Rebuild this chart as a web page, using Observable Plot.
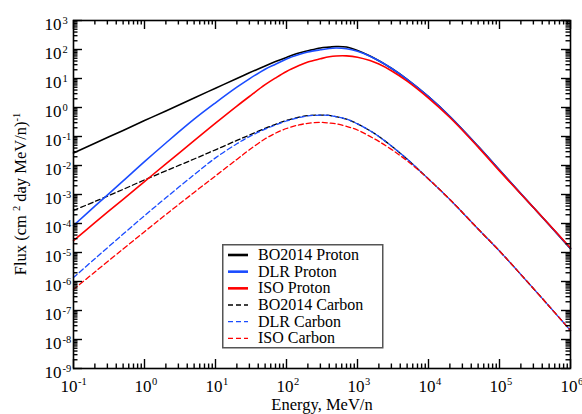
<!DOCTYPE html>
<html><head><meta charset="utf-8">
<script src="https://cdn.jsdelivr.net/npm/d3@7"></script>
<script src="https://cdn.jsdelivr.net/npm/@observablehq/plot@0.6"></script>
<style>
html,body{margin:0;padding:0;background:#fff;}
#wrap{position:relative;width:582px;height:414px;overflow:hidden;background:#fff;font-family:"Liberation Serif",Tinos,"Times New Roman","DejaVu Serif",serif;}
#wrap svg{display:block;}
#wrap svg text{font-family:"Liberation Serif",Tinos,"Times New Roman","DejaVu Serif",serif;}
</style></head>
<body><div id="wrap"></div>
<script>
// Energy grid (MeV/n)
const energy = [0.1, 0.2, 0.5, 1, 2, 5, 10, 20, 30, 50, 70, 100, 150, 200, 300, 400, 500, 700, 1000, 1500, 2000, 3000, 5000, 1e4, 2e4, 5e4, 1e5, 2e5, 5e5, 1e6];
// Flux values, (cm^2 day MeV/n)^-1
const bo2014Proton = [0.027, 0.0587, 0.162, 0.354, 0.763, 2.13, 4.63, 10.0, 15.7, 27.2, 38.3, 53.4, 75.7, 90.2, 112.6, 121, 126.9, 122, 93.1, 59.7, 40.8, 22.5, 9.31, 2.36, 0.489, 0.0459, 0.0070, 0.00106, 9.0e-5, 1.34e-5];
const dlrProton = [8.53e-5, 3.95e-4, 2.94e-3, 0.0136, 0.0597, 0.395, 1.45, 5.01, 9.76, 20.9, 31.1, 47.4, 67.2, 82.0, 97.7, 108.3, 112.6, 106.6, 86.7, 58.7, 40.8, 22.5, 9.31, 2.36, 0.489, 0.0459, 0.0070, 0.00107, 9.09e-5, 1.37e-5];
const isoProton = [2.59e-5, 1.07e-4, 6.83e-4, 2.79e-3, 0.01135, 0.0716, 0.2875, 1.117, 2.395, 6.11, 10.4, 17.43, 27.85, 37.07, 47.8, 56.0, 59.7, 60.2, 54.3, 41.4, 31.4, 18.58, 8.14, 2.11, 0.452, 0.0431, 0.00651, 0.00104, 9.24e-5, 1.43e-5];
const bo2014Carbon = [2.81e-4, 5.74e-4, 1.50e-3, 3.19e-3, 6.51e-3, 0.01675, 0.0348, 0.0734, 0.1117, 0.1918, 0.2634, 0.359, 0.4628, 0.5256, 0.547, 0.534, 0.4817, 0.395, 0.2741, 0.1585, 0.100, 0.0474, 0.01662, 3.42e-3, 6.72e-4, 6.46e-5, 1.126e-5, 1.743e-6, 1.407e-7, 2.04e-8];
const dlrCarbon = [1.37e-6, 6.11e-6, 4.31e-5, 1.86e-4, 7.69e-4, 4.82e-3, 0.0183, 0.056, 0.0992, 0.1786, 0.2492, 0.3423, 0.4484, 0.5132, 0.5427, 0.534, 0.4817, 0.395, 0.2741, 0.1585, 0.100, 0.0474, 0.01662, 3.42e-3, 6.72e-4, 6.46e-5, 1.126e-5, 1.743e-6, 1.407e-7, 2.04e-8];
const isoCarbon = [5.30e-7, 2.13e-6, 1.32e-5, 5.22e-5, 2.03e-4, 1.18e-3, 4.38e-3, 0.01623, 0.0348, 0.0833, 0.130, 0.1887, 0.2512, 0.2851, 0.3087, 0.292, 0.2741, 0.2248, 0.1675, 0.1008, 0.0678, 0.0359, 0.01453, 3.42e-3, 6.72e-4, 6.46e-5, 1.126e-5, 1.743e-6, 1.407e-7, 2.04e-8];

const seriesNames = ["BO2014 Proton", "DLR Proton", "ISO Proton", "BO2014 Carbon", "DLR Carbon", "ISO Carbon"];
const seriesValues = [bo2014Proton, dlrProton, isoProton, bo2014Carbon, dlrCarbon, isoCarbon];
const seriesColors = ["#000000", "#1a4cff", "#ff0000", "#000000", "#1a4cff", "#ff0000"];
const seriesDashed = [false, false, false, true, true, true];

// tick labels (exponents of 10)
const xTickExps = [-1, 0, 1, 2, 3, 4, 5, 6];
const yTickExps = [-9, -8, -7, -6, -5, -4, -3, -2, -1, 0, 1, 2, 3];
const minorMultipliers = [2, 3, 4, 5, 6, 7, 8, 9];

const xMajor = xTickExps.map(e => 10 ** e);
const yMajor = yTickExps.map(e => 10 ** e);
const xMinor = xTickExps.slice(0, -1).flatMap(e => minorMultipliers.map(m => m * 10 ** e));
const yMinor = yTickExps.slice(0, -1).flatMap(e => minorMultipliers.map(m => m * 10 ** e));

const W = 582, H = 414, mL = 73, mR = 12, mT = 20, mB = 46;
const innerW = W - mL - mR, innerH = H - mT - mB;
const majLen = 9, minLen = 4.5;
const serif = '"Liberation Serif", Tinos, "Times New Roman", "DejaVu Serif", serif';

const lineMarks = seriesNames.map((name, k) => Plot.line(
  energy.map((e, i) => ({e, f: seriesValues[k][i]})),
  {x: "e", y: "f", stroke: seriesColors[k], strokeWidth: seriesDashed[k] ? 1.3 : 1.6,
   strokeDasharray: seriesDashed[k] ? "5,3" : null, curve: "catmull-rom"}
));
const ordered = [lineMarks[3], lineMarks[4], lineMarks[5], lineMarks[0], lineMarks[1], lineMarks[2]];

const tickStyle = {stroke: "black", strokeWidth: 1.4};

const chart = Plot.plot({
  width: W, height: H,
  marginLeft: mL, marginRight: mR, marginTop: mT, marginBottom: mB,
  x: {type: "log", domain: [0.1, 1e6], axis: null},
  y: {type: "log", domain: [1e-9, 1e3], axis: null},
  style: {fontFamily: serif, fontSize: "17px", background: "white", color: "black", overflow: "visible"},
  marks: [
    ...ordered,
    Plot.ruleX(xMajor, {x: d => d, insetTop: innerH - majLen, ...tickStyle}),
    Plot.ruleX(xMajor, {x: d => d, insetBottom: innerH - majLen, ...tickStyle}),
    Plot.ruleX(xMinor, {x: d => d, insetTop: innerH - minLen, ...tickStyle}),
    Plot.ruleX(xMinor, {x: d => d, insetBottom: innerH - minLen, ...tickStyle}),
    Plot.ruleY(yMajor, {y: d => d, insetRight: innerW - majLen, ...tickStyle}),
    Plot.ruleY(yMajor, {y: d => d, insetLeft: innerW - majLen, ...tickStyle}),
    Plot.ruleY(yMinor, {y: d => d, insetRight: innerW - minLen, ...tickStyle}),
    Plot.ruleY(yMinor, {y: d => d, insetLeft: innerW - minLen, ...tickStyle}),
    Plot.frame({stroke: "black", strokeWidth: 1.6}),
    Plot.text(xTickExps.filter(e => e >= 0), {x: e => 10 ** e, frameAnchor: "bottom", text: () => "10",
      textAnchor: "middle", lineAnchor: "bottom", dx: -1.5, dy: 23, fontSize: 17}),
    Plot.text(xTickExps.filter(e => e < 0), {x: e => 10 ** e, frameAnchor: "bottom", text: () => "10",
      textAnchor: "middle", lineAnchor: "bottom", dx: -4.5, dy: 23, fontSize: 17}),
    Plot.text(xTickExps.filter(e => e >= 0), {x: e => 10 ** e, frameAnchor: "bottom", text: e => String(e),
      textAnchor: "start", lineAnchor: "bottom", dx: 7.5, dy: 16.5, fontSize: 10.5}),
    Plot.text(xTickExps.filter(e => e < 0), {x: e => 10 ** e, frameAnchor: "bottom", text: e => String(e),
      textAnchor: "start", lineAnchor: "bottom", dx: 4.5, dy: 16.5, fontSize: 10.5}),
    Plot.text(yTickExps, {y: e => 10 ** e, frameAnchor: "left", text: () => "10",
      textAnchor: "end", lineAnchor: "bottom", dx: -12, dy: 9.5, fontSize: 17}),
    Plot.text(yTickExps, {y: e => 10 ** e, frameAnchor: "left", text: e => String(e),
      textAnchor: "start", lineAnchor: "bottom", dx: -11, dy: 3.5, fontSize: 10.5}),
    Plot.text(["Energy, MeV/n"], {frameAnchor: "bottom", text: d => d, textAnchor: "middle",
      lineAnchor: "bottom", dy: 41, fontSize: 16.5})
  ]
});

document.getElementById("wrap").appendChild(chart);

// y axis title with superscripts
const svg = d3.select(chart);
const yt = svg.append("text")
  .attr("transform", `translate(26,${mT + innerH / 2}) rotate(-90)`)
  .attr("text-anchor", "middle")
  .style("font-family", serif)
  .attr("font-size", 16.5)
  .attr("fill", "black");
yt.append("tspan").text("Flux (cm ");
yt.append("tspan").attr("dy", -6).attr("font-size", 10.5).text("2");
yt.append("tspan").attr("dy", 6).text(" day MeV/n)");
yt.append("tspan").attr("dy", -6).attr("font-size", 10.5).text("-1");

// legend box
const leg = d3.select("#wrap").append("svg")
  .attr("width", 162).attr("height", 105)
  .style("position", "absolute").style("left", "222px").style("top", "244px");
leg.append("rect").attr("x", 0.75).attr("y", 0.75).attr("width", 160).attr("height", 103)
  .attr("fill", "white").attr("stroke", "#555").attr("stroke-width", 1.5);
seriesNames.forEach((name, i) => {
  const yy = 11 + 16.67 * i;
  leg.append("line").attr("x1", 6).attr("x2", 26).attr("y1", yy).attr("y2", yy)
    .attr("stroke", seriesColors[i])
    .attr("stroke-width", seriesDashed[i] ? 1.3 : 2.6)
    .attr("stroke-dasharray", seriesDashed[i] ? "5,3" : null);
  leg.append("text").attr("x", 36).attr("y", yy + 5)
    .style("font-family", serif).attr("font-size", 16).attr("fill", "black")
    .text(name);
});
</script>
</body></html>
